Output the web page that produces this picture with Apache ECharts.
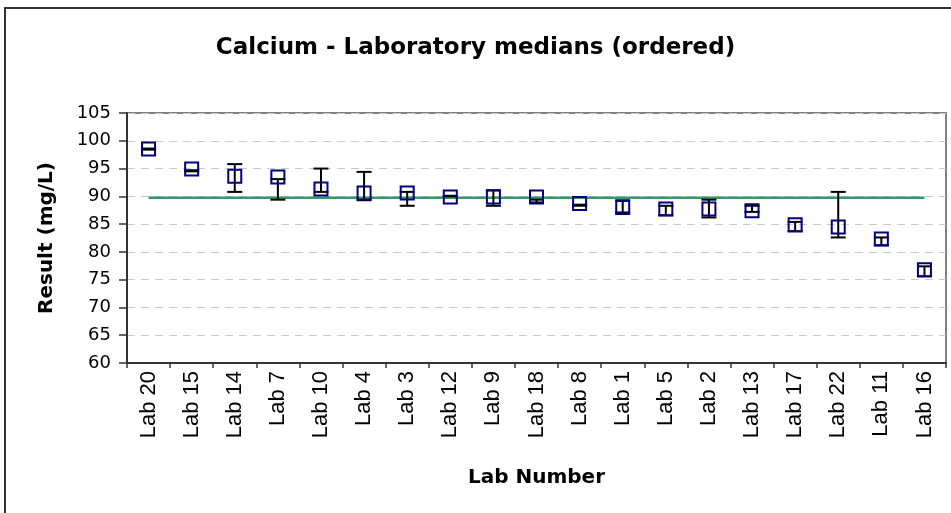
<!DOCTYPE html>
<html>
<head>
<meta charset="utf-8">
<script src="https://cdn.jsdelivr.net/npm/echarts@6/dist/echarts.min.js"></script>
<style>
html,body{margin:0;padding:0;background:#fff;}
#chart{width:951px;height:513px;}
</style>
</head>
<body>
<div id="chart"></div>
<script>
const categories = ['Lab 20','Lab 15','Lab 14','Lab 7','Lab 10','Lab 4','Lab 3','Lab 12','Lab 9','Lab 18','Lab 8','Lab 1','Lab 5','Lab 2','Lab 13','Lab 17','Lab 22','Lab 11','Lab 16'];
const medians  = [98.5, 94.9, 93.6, 93.5, 91.3, 90.6, 90.6, 89.9, 89.9, 89.9, 88.7, 88.0, 87.7, 87.7, 87.4, 84.9, 84.5, 82.3, 76.8];
const errLow   = [98.4, 94.5, 90.8, 89.4, 90.8, 89.3, 88.3, 90.0, 88.3, 88.9, 88.3, 87.1, 86.6, 86.2, 87.2, 83.7, 82.6, 81.2, 75.6];
const errHigh  = [98.6, 94.7, 95.8, 93.1, 95.0, 94.4, 90.8, 90.1, 91.1, 89.4, 88.5, 89.3, 88.3, 89.4, 88.3, 85.4, 90.8, 82.6, 77.4];
const consensus = 89.75;
const yTicks = {min: 60, max: 105, interval: 5};

const chart = echarts.init(document.getElementById('chart'));
const errData = categories.map((c, i) => [i, errLow[i], errHigh[i]]);
const refLine = categories.map(() => consensus);

chart.setOption({
  animation: false,
  backgroundColor: '#fff',
  title: {
    text: 'Calcium - Laboratory medians (ordered)',
    left: 'center', top: 32,
    textStyle: {fontFamily: 'DejaVu Sans', fontWeight: 'bold', fontSize: 23, color: '#000'}
  },
  graphic: [{
    type: 'rect', silent: true, z: -1,
    shape: {x: 5, y: 8, width: 1000, height: 1000},
    style: {fill: 'none', stroke: '#333', lineWidth: 2}
  }],
  grid: {left: 127, right: 5, top: 113, bottom: 150, show: true, borderColor: '#808080', borderWidth: 2, backgroundColor: 'transparent'},
  xAxis: {
    type: 'category', data: categories, boundaryGap: true,
    name: 'Lab Number', nameLocation: 'middle', nameGap: 105,
    nameTextStyle: {fontFamily: 'DejaVu Sans', fontWeight: 'bold', fontSize: 20, color: '#000'},
    axisLine: {lineStyle: {color: '#333', width: 2}},
    axisTick: {show: true, interval: 0, length: 5, lineStyle: {color: '#333', width: 1.5}},
    axisLabel: {interval: 0, rotate: 90, fontFamily: 'Liberation Sans', fontSize: 22, color: '#000', margin: 8},
    splitLine: {show: false}
  },
  yAxis: {
    type: 'value', min: yTicks.min, max: yTicks.max, interval: yTicks.interval,
    name: 'Result (mg/L)', nameLocation: 'middle', nameGap: 70, nameRotate: 90,
    nameTextStyle: {fontFamily: 'DejaVu Sans', fontWeight: 'bold', fontSize: 20, color: '#000'},
    axisLine: {show: true, lineStyle: {color: '#333', width: 2}},
    axisTick: {show: true, length: 8, lineStyle: {color: '#333', width: 1.5}},
    axisLabel: {fontFamily: 'DejaVu Sans', fontSize: 18, color: '#000', margin: 16},
    splitLine: {show: true, lineStyle: {color: '#c8c8c8', type: [8, 6], width: 1}}
  },
  series: [
    {
      type: 'line', data: refLine, symbol: 'none', z: 2,
      lineStyle: {color: '#339966', width: 2.5}
    },
    {
      type: 'custom', z: 3,
      data: errData,
      encode: {x: 0, y: [1, 2]},
      renderItem: function (params, api) {
        const x = api.value(0);
        const lo = api.coord([x, api.value(1)]);
        const hi = api.coord([x, api.value(2)]);
        const hw = 7.5;
        const st = {stroke: '#000', lineWidth: 2};
        return {type: 'group', children: [
          {type: 'line', shape: {x1: lo[0], y1: lo[1], x2: hi[0], y2: hi[1]}, style: st},
          {type: 'line', shape: {x1: lo[0] - hw, y1: lo[1], x2: lo[0] + hw, y2: lo[1]}, style: st},
          {type: 'line', shape: {x1: hi[0] - hw, y1: hi[1], x2: hi[0] + hw, y2: hi[1]}, style: st}
        ]};
      }
    },
    {
      type: 'scatter', data: medians, symbol: 'rect', symbolSize: 13, z: 4,
      itemStyle: {color: 'rgba(0,0,0,0)', borderColor: '#000080', borderWidth: 2, opacity: 1}
    }
  ]
});
</script>
</body>
</html>
